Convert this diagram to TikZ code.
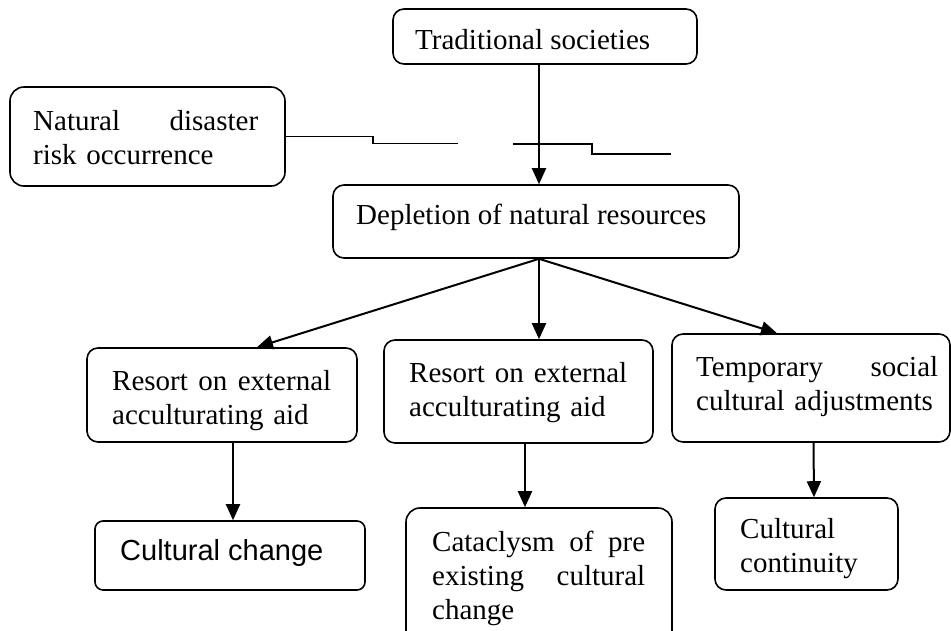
\documentclass[tikz,border=0pt]{standalone}
\usepackage{fontspec}
\setmainfont{Liberation Serif}
\newfontfamily\arialfont{Liberation Sans}
\usetikzlibrary{arrows.meta}
% a line set flush to both margins of the text block
\newcommand{\fullline}[1]{\makebox[\linewidth][s]{#1}}
\begin{document}
\begin{tikzpicture}[x=1pt,y=-1pt,
  box/.style={draw,line width=1.6pt,rounded corners=11pt,inner sep=0pt},
  txt/.style={anchor=base west,inner sep=0pt,align=left,font=\fontsize{29}{34}\selectfont},
  arr/.style={line width=2pt,-{Triangle[length=16pt,width=14pt]}},
  link/.style={line width=1.6pt}]
\useasboundingbox (0,0) rectangle (951,630);
\clip (0,0) rectangle (951,630);

% boxes
\node[box,minimum width=304pt,minimum height=55pt]  (trad) at (545,36.5) {};
\node[box,rounded corners=14pt,minimum width=275pt,minimum height=99pt] (nat) at (147.5,136.5) {};
\node[box,minimum width=406pt,minimum height=73pt]  (dep)  at (536,221.5) {};
\node[box,minimum width=270pt,minimum height=94pt]  (ra)   at (222,395) {};
\node[box,minimum width=269pt,minimum height=103pt] (rb)   at (518.5,391.5) {};
\node[box,minimum width=278pt,minimum height=108pt] (temp) at (811,388) {};
\node[box,rounded corners=8pt,minimum width=270pt,minimum height=69pt] (cc) at (230,555.5) {};
\node[box,rounded corners=14pt,minimum width=266pt,minimum height=142pt] (cat) at (539,579) {};
\node[box,minimum width=183pt,minimum height=92pt]  (cont) at (806.5,544) {};

% texts
\node[txt] (tradtext) at (415,49) {Traditional societies};
\node[txt,text width=225pt] (nattext) at (33,130)
  {\fullline{Natural\hfill disaster}\\risk occurrence};
\node[txt] (deptext) at (356,224) {Depletion of natural resources};
\node[txt,text width=219pt] (ratext) at (112,390)
  {\fullline{Resort\hfill on\hfill external}\\acculturating aid};
\node[txt,text width=218pt] (rbtext) at (409,382)
  {\fullline{Resort\hfill on\hfill external}\\acculturating aid};
\node[txt,text width=242pt] (temptext) at (696,376)
  {\fullline{Temporary\hfill social}\\cultural adjustments};
\node[txt,font=\arialfont\fontsize{29}{34}\selectfont] (cctext) at (120,560) {Cultural change};
\node[txt,text width=213pt] (cattext) at (432,551)
  {\fullline{Cataclysm\hfill of\hfill pre}\\\fullline{existing\hfill cultural}\\change};
\node[txt,text width=150pt] (conttext) at (740,538) {Cultural\\continuity};

% arrows
\draw[arr] ([xshift=-6pt]trad.south) -- ([xshift=3pt]dep.north);
\draw[arr] ([xshift=3pt]dep.south) -- ([xshift=35pt]ra.north);
\draw[arr] ([xshift=3pt]dep.south) -- ([xshift=20.5pt]rb.north);
\draw[arr] ([xshift=3pt]dep.south) -- ([xshift=-34pt]temp.north);
\draw[arr] ([xshift=11pt]ra.south) -- ([xshift=3pt]cc.north);
\draw[arr] ([xshift=6.5pt]rb.south) -- ([xshift=-14pt]cat.north);
\draw[arr] ([xshift=2.5pt]temp.south) -- ([xshift=7.5pt]cont.north);

% stepped line from the disaster box, broken around the vertical arrow
\draw[link] (nat.east) -- ++(87,0) -- ++(0,7) -- ++(85,0) coordinate (gapl);
\coordinate (gapr) at (513,144);
\draw[link] (gapr) -- ++(79,0) -- ++(0,10) -- ++(79,0) coordinate (linkend);
\end{tikzpicture}
\end{document}
